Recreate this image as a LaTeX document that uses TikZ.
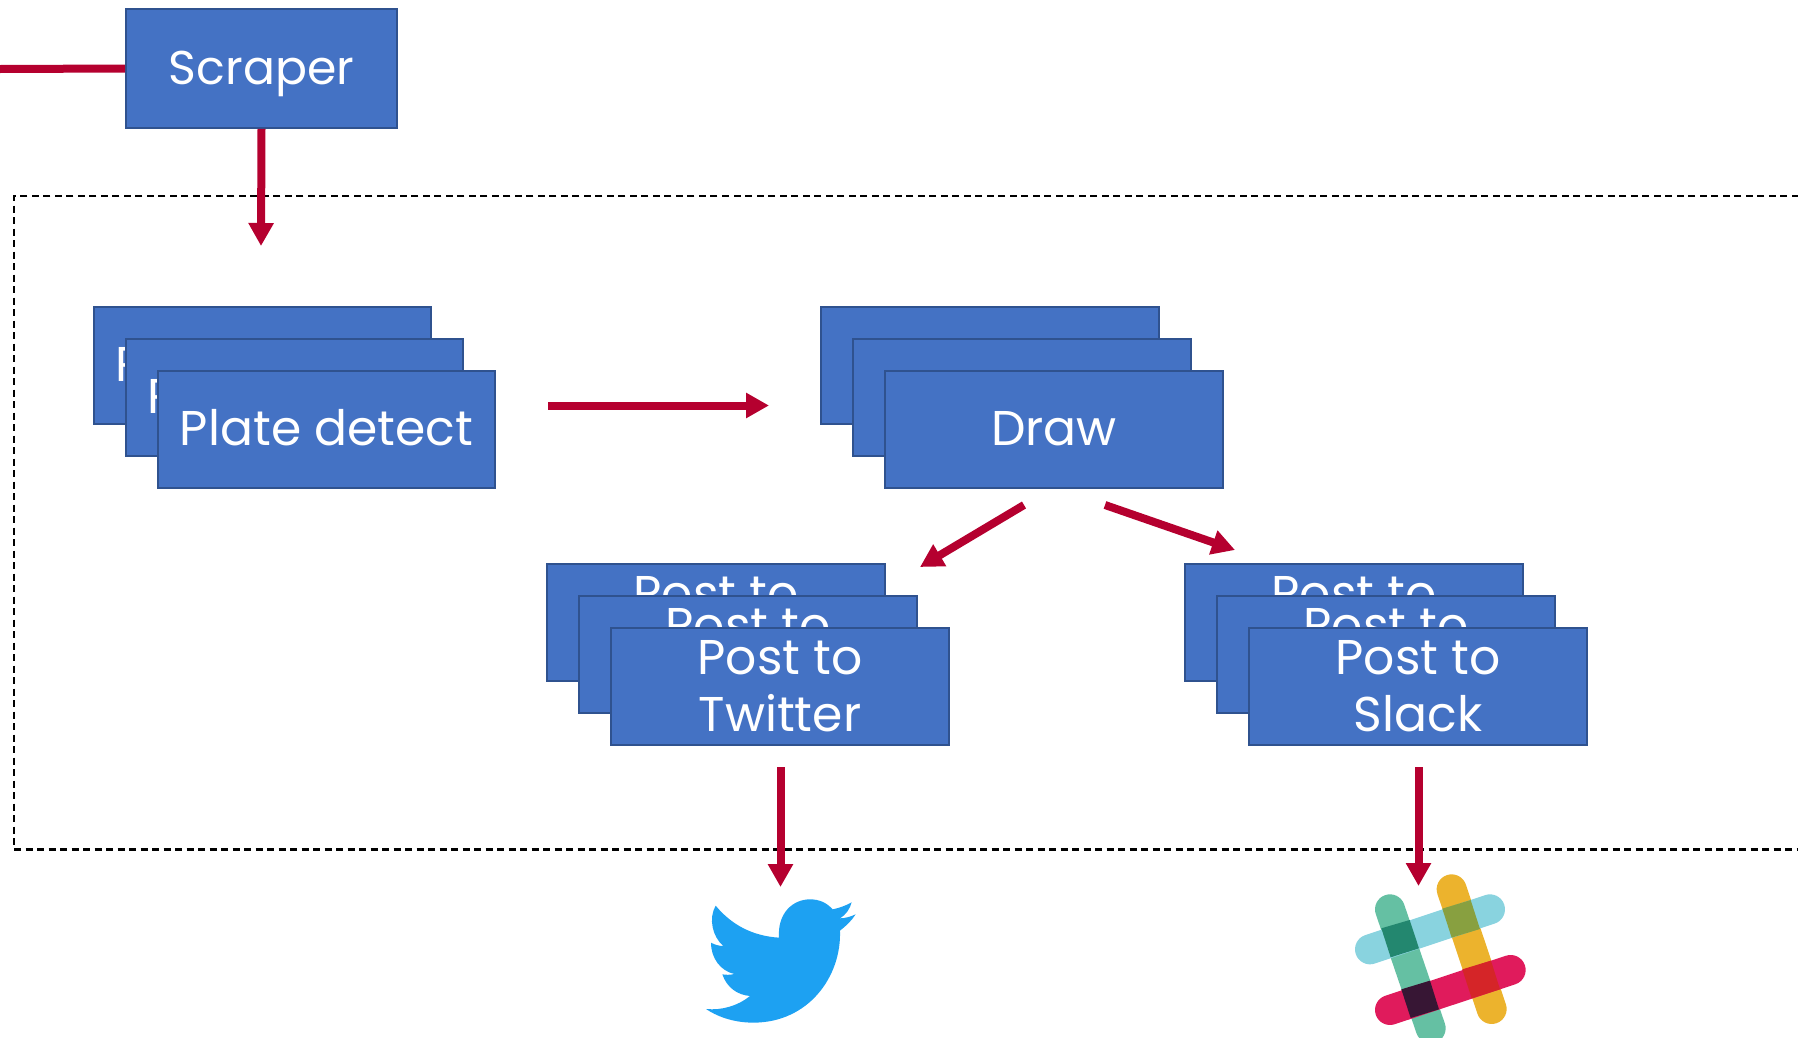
\documentclass[tikz,border=0pt]{standalone}
\usepackage{fontspec}
\setmainfont{Poppins}
\usetikzlibrary{arrows.meta}
\definecolor{boxfill}{HTML}{4472C4}
\definecolor{boxline}{HTML}{2F528F}
\definecolor{arrowred}{HTML}{B5002F}
\definecolor{birdblue}{HTML}{1DA1F2}
\definecolor{slgreen}{HTML}{65C0A3}
\definecolor{slblue}{HTML}{89D3DF}
\definecolor{slyellow}{HTML}{ECB32D}
\definecolor{slpink}{HTML}{E01B5C}
\definecolor{slteal}{HTML}{23876F}
\definecolor{slolive}{HTML}{88A040}
\definecolor{sldark}{HTML}{371634}
\definecolor{slred}{HTML}{D52528}
\tikzset{
  x=1bp,y=-1bp,
  box/.style={draw=boxline,line width=2.4bp,fill=boxfill,text=white,inner sep=0pt,
    minimum width=337.5bp,minimum height=117.5bp,align=center,
    font=\fontsize{49}{57}\selectfont},
  oneline/.style={text height=32bp,text depth=0bp},
  redline/.style={draw=arrowred,line width=8bp},
  redarrow/.style={redline,-{Triangle[length=23bp,width=24bp]}},
  slbar/.style={line width=30bp,line cap=round},
  dashbox/.style={draw=black,line width=2.2bp,dash pattern=on 7bp off 4.5bp}
}
\begin{document}
\begin{tikzpicture}
\useasboundingbox (0,0) rectangle (1798,1037);
% dashed frame
\coordinate (ftr) at (1810,196);
\coordinate (ftl) at (14,196);
\coordinate (fbl) at (14,849.5);
\coordinate (fbr) at (1810,849.5);
\draw[dashbox] (ftr) -- (ftl) -- (fbl) -- (fbr);
% scraper
\coordinate (inleft) at (0,69);
\node[box,oneline,minimum width=270.5bp,minimum height=118.5bp,font=\fontsize{47.5}{57}\selectfont] (scraper) at (261.5,68.5) {Scraper};
\draw[redline] (inleft) -- (scraper.west);
\coordinate (sa) at (261,246);
\draw[redarrow] (scraper.south) -- (sa);
% plate detect
\node[box,oneline] (pd1) at (262.5,365.5) {Plate detect};
\node[box,oneline] (pd2) at (294.5,397.5) {Plate detect};
\node[box,oneline] (pd3) at (326.5,429.5) {Plate detect};
% draw
\node[box,oneline] (dr1) at (990,365.5) {Draw};
\node[box,oneline] (dr2) at (1022,397.5) {Draw};
\node[box,oneline] (dr3) at (1054,429.5) {Draw};
% twitter
\node[box] (tw1) at (716,622.5) {Post to\\Twitter};
\node[box] (tw2) at (748,654.5) {Post to\\Twitter};
\node[box] (tw3) at (780,686.5) {Post to\\Twitter};
% slack
\node[box] (sl1) at (1354,622.5) {Post to\\Slack};
\node[box] (sl2) at (1386,654.5) {Post to\\Slack};
\node[box] (sl3) at (1418,686.5) {Post to\\Slack};
% arrows
\coordinate (a1s) at (548,405.5); \coordinate (a1e) at (769,405.5);
\draw[redarrow] (a1s) -- (a1e);
\coordinate (a2s) at (1024,505); \coordinate (a2e) at (920,567);
\draw[redarrow] (a2s) -- (a2e);
\coordinate (a3s) at (1105,505); \coordinate (a3e) at (1235,550);
\draw[redarrow] (a3s) -- (a3e);
\coordinate (a4s) at (780.5,767); \coordinate (a4e) at (780.5,887);
\draw[redarrow] (a4s) -- (a4e);
\coordinate (a5s) at (1418.5,767); \coordinate (a5e) at (1418.5,886);
\draw[redarrow] (a5s) -- (a5e);
% twitter bird
\begin{scope}[shift={(680,860)},x=0.3333bp,y=-0.3333bp]
\fill[birdblue] (515,127) .. controls (497,137) and (478,144) .. (458,148)
  .. controls (440,128) and (418,118) .. (390,118)
  .. controls (338,118) and (292,160) .. (297,233)
  .. controls (218,228) and (155,195) .. (107,137)
  .. controls (85,175) and (97,230) .. (130,258)
  .. controls (117,258) and (104,254) .. (93,248)
  .. controls (93,295) and (122,333) .. (163,342)
  .. controls (150,345) and (138,345) .. (127,343)
  .. controls (140,382) and (172,405) .. (210,408)
  .. controls (175,437) and (125,452) .. (78,447)
  .. controls (120,475) and (170,488) .. (220,488)
  .. controls (385,488) and (485,350) .. (480,212)
  .. controls (498,198) and (515,182) .. (527,163)
  .. controls (512,170) and (495,175) .. (480,175)
  .. controls (497,165) and (510,147) .. (515,127) -- cycle;
\end{scope}
% slack logo
\begin{scope}[shift={(1340,860)},x=0.3333bp,y=-0.3333bp]
\draw[slbar,slgreen] (150,148) -- (272,505);
\draw[slbar,slyellow] (335,88) -- (455,447);
\draw[slbar,slblue] (90,268) -- (450,148);
\draw[slbar,slpink] (150,450) -- (512,330);
\fill[slteal] (124,205) -- (209,180) -- (237,265) -- (152,292) -- cycle;
\fill[slolive] (307,146) -- (392,120) -- (420,207) -- (335,233) -- cycle;
\fill[sldark] (184,388) -- (270,362) -- (297,448) -- (212,474) -- cycle;
\fill[slred] (367,328) -- (453,302) -- (480,388) -- (395,415) -- cycle;
\end{scope}
\end{tikzpicture}
\end{document}
